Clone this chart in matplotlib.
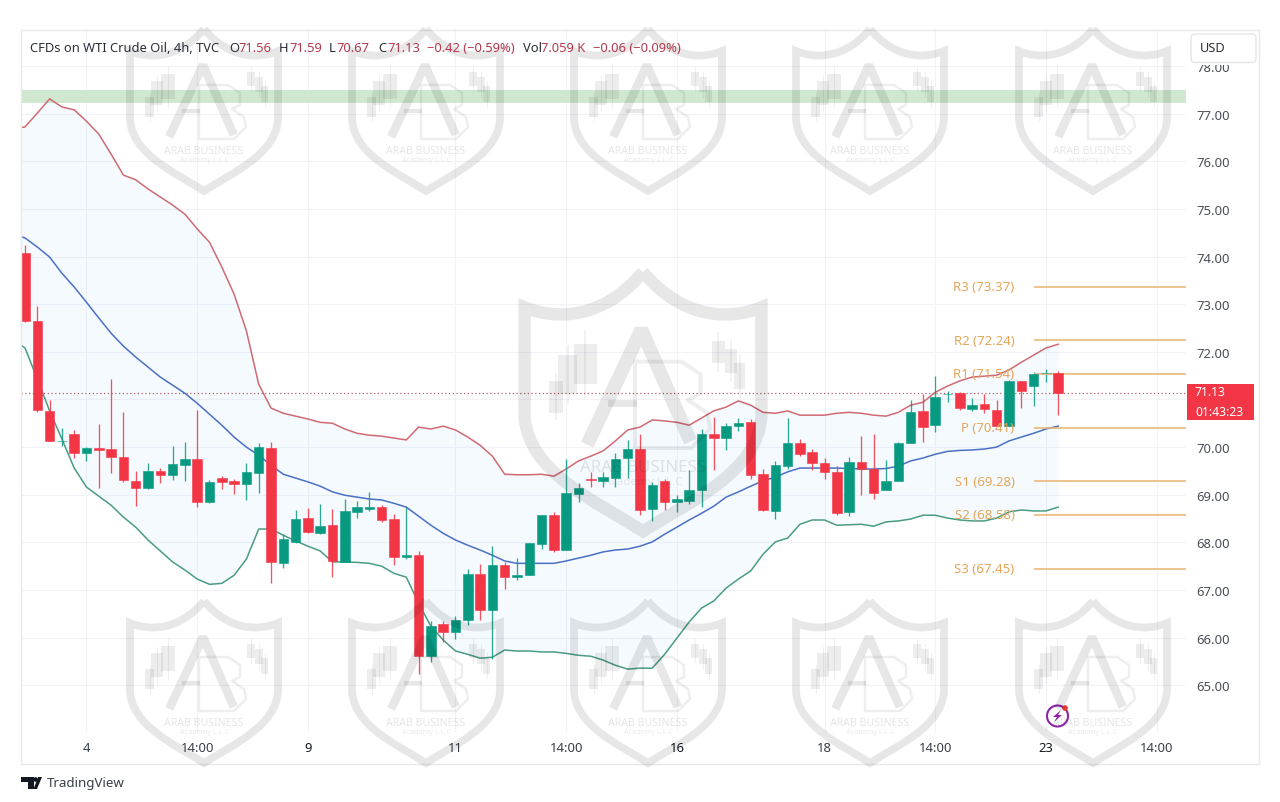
import numpy as np
import matplotlib.pyplot as plt
from matplotlib.patches import Rectangle, FancyBboxPatch, PathPatch, Circle, Polygon
from matplotlib.path import Path

plt.rcParams['font.family'] = ['Noto Sans', 'DejaVu Sans']

# Candles (4h)
opens = [74.07, 72.65, 70.76, 70.12, 70.27, 69.87, 69.99, 69.96, 69.80, 69.29,
         69.15, 69.50, 69.41, 69.62, 69.76, 68.84, 69.35, 69.29, 69.22, 69.45,
         69.99, 67.56, 68.01, 68.51, 68.19, 68.36, 67.59, 68.63, 68.70, 68.75,
         68.49, 67.69, 67.73, 65.62, 66.28, 66.11, 66.37, 67.34, 66.58, 67.53,
         67.27, 67.31, 67.96, 68.58, 67.84, 69.02, 69.32, 69.29, 69.36, 69.77,
         69.97, 68.71, 69.29, 68.85, 68.87, 69.10, 70.27, 70.19, 70.45, 70.52,
         69.43, 68.65, 69.61, 70.08, 69.90, 69.66, 69.48, 68.63, 69.69, 69.54,
         69.10, 69.29, 70.08, 70.75, 70.46, 71.11, 71.14, 70.81, 70.90, 70.78,
         70.45, 71.39, 71.29, 71.55, 71.56]
highs = [74.24, 72.97, 70.99, 70.40, 70.36, 70.00, 70.48, 71.43, 70.73, 69.50,
         69.66, 69.57, 70.03, 70.11, 70.78, 69.31, 69.39, 69.34, 69.66, 70.08,
         70.10, 68.17, 68.68, 68.73, 68.80, 68.71, 68.92, 68.86, 69.05, 68.79,
         68.59, 68.75, 67.82, 66.35, 66.35, 66.46, 67.44, 67.54, 67.93, 67.59,
         67.68, 67.98, 68.58, 68.63, 69.75, 69.24, 69.47, 69.48, 69.87, 70.14,
         70.27, 69.26, 69.33, 68.99, 69.52, 70.39, 70.64, 70.50, 70.62, 70.59,
         69.54, 69.71, 70.61, 70.18, 69.97, 69.78, 69.61, 69.80, 70.24, 70.27,
         69.73, 70.10, 70.98, 71.11, 71.50, 71.18, 71.15, 71.04, 71.11, 70.99,
         71.40, 71.39, 71.58, 71.64, 71.59]
lows = [72.63, 70.73, 70.12, 70.03, 69.78, 69.70, 69.15, 69.45, 69.27, 68.77,
        69.12, 69.24, 69.31, 69.28, 68.75, 68.82, 69.13, 69.01, 68.89, 69.03,
        67.14, 67.46, 67.98, 68.19, 68.17, 67.28, 67.59, 68.51, 68.66, 68.42,
        67.52, 67.66, 65.23, 65.49, 65.90, 65.98, 66.27, 66.37, 65.56, 67.02,
        67.21, 67.31, 67.86, 67.80, 67.83, 68.84, 69.17, 69.17, 69.17, 69.36,
        68.57, 68.45, 68.68, 68.63, 68.81, 68.75, 69.51, 69.94, 70.34, 69.33,
        68.66, 68.50, 69.55, 69.82, 69.51, 69.33, 68.57, 68.56, 69.00, 68.91,
        69.10, 69.29, 70.08, 70.11, 70.31, 70.95, 70.78, 70.76, 70.71, 70.45,
        70.45, 70.83, 70.87, 71.37, 70.67]
closes = [72.65, 70.78, 70.12, 70.13, 69.87, 69.99, 69.94, 69.79, 69.31, 69.15,
          69.50, 69.41, 69.64, 69.76, 68.84, 69.27, 69.26, 69.22, 69.48, 70.00,
          67.58, 68.07, 68.49, 68.21, 68.35, 67.61, 68.66, 68.75, 68.75, 68.47,
          67.69, 67.73, 65.62, 66.24, 66.11, 66.38, 67.33, 66.58, 67.53, 67.27,
          67.32, 67.98, 68.58, 67.84, 69.03, 69.15, 69.31, 69.37, 69.76, 69.97,
          68.68, 69.20, 68.85, 68.91, 69.10, 70.27, 70.19, 70.44, 70.50, 69.41,
          68.67, 69.62, 70.08, 69.85, 69.66, 69.48, 68.62, 69.69, 69.53, 69.03,
          69.29, 70.08, 70.74, 70.43, 71.06, 71.12, 70.83, 70.89, 70.79, 70.45,
          71.39, 71.17, 71.53, 71.56, 71.13]

# Bollinger bands, first value sits one bar left of the visible range
band_upper = [76.68, 76.72, 77.01, 77.31, 77.14, 77.08, 76.84, 76.57, 76.15, 75.71, 75.61,
              75.42, 75.25, 75.08, 74.89, 74.58, 74.30, 73.78, 73.21, 72.44, 71.32,
              70.82, 70.71, 70.65, 70.59, 70.52, 70.50, 70.38, 70.29, 70.25, 70.23,
              70.19, 70.15, 70.42, 70.38, 70.44, 70.36, 70.21, 70.04, 69.81, 69.43,
              69.42, 69.42, 69.43, 69.39, 69.54, 69.71, 69.81, 69.92, 70.13, 70.36,
              70.42, 70.57, 70.55, 70.52, 70.46, 70.61, 70.76, 70.84, 70.97, 70.88,
              70.73, 70.71, 70.76, 70.67, 70.67, 70.67, 70.71, 70.73, 70.71, 70.67,
              70.65, 70.73, 70.88, 70.94, 71.15, 71.28, 71.39, 71.47, 71.49, 71.51,
              71.62, 71.78, 71.93, 72.08, 72.16]
band_mid = [74.47, 74.39, 74.20, 73.99, 73.65, 73.36, 73.04, 72.71, 72.39, 72.12, 71.89,
            71.68, 71.47, 71.30, 71.13, 70.92, 70.69, 70.46, 70.21, 70.00, 69.83,
            69.62, 69.43, 69.35, 69.27, 69.18, 69.06, 68.99, 68.95, 68.91, 68.89,
            68.82, 68.74, 68.55, 68.36, 68.19, 68.05, 67.94, 67.84, 67.73, 67.61,
            67.56, 67.56, 67.56, 67.56, 67.61, 67.67, 67.73, 67.80, 67.84, 67.86,
            67.92, 68.01, 68.17, 68.32, 68.47, 68.61, 68.76, 68.95, 69.06, 69.18,
            69.29, 69.37, 69.48, 69.56, 69.56, 69.56, 69.56, 69.55, 69.54, 69.54,
            69.55, 69.60, 69.71, 69.77, 69.85, 69.91, 69.93, 69.94, 69.96, 70.00,
            70.13, 70.21, 70.29, 70.38, 70.44]
band_lower = [72.27, 72.08, 71.43, 70.76, 70.17, 69.56, 69.16, 68.97, 68.78, 68.53, 68.32,
              68.05, 67.82, 67.59, 67.42, 67.23, 67.12, 67.14, 67.31, 67.65, 68.28,
              68.28, 68.15, 68.03, 67.92, 67.82, 67.59, 67.59, 67.58, 67.56, 67.50,
              67.35, 67.27, 66.72, 66.24, 65.95, 65.72, 65.65, 65.57, 65.59, 65.74,
              65.72, 65.72, 65.70, 65.70, 65.67, 65.63, 65.61, 65.53, 65.42, 65.34,
              65.36, 65.36, 65.65, 65.99, 66.33, 66.62, 66.77, 67.04, 67.23, 67.40,
              67.75, 68.01, 68.09, 68.38, 68.47, 68.47, 68.36, 68.37, 68.38, 68.34,
              68.43, 68.45, 68.49, 68.57, 68.57, 68.51, 68.47, 68.45, 68.45, 68.51,
              68.64, 68.68, 68.66, 68.66, 68.74]

# Pivot levels
pivot_names = ['R3', 'R2', 'R1', 'P', 'S1', 'S2', 'S3']
pivot_levels = [73.37, 72.24, 71.54, 70.41, 69.28, 68.58, 67.45]

zone_low, zone_high = 77.22, 77.50
last_price = 71.13
countdown = '01:43:23'

price_ticks = list(range(65, 79))
hidden_tick = 71  # sits behind the price tag
time_positions = [5, 14, 23, 35, 44, 53, 65, 74, 83, 92]
time_labels = ['4', '14:00', '9', '11', '14:00', '16', '18', '14:00', '23', '14:00']
time_bold = ['9', '16', '23']

RED = '#F23645'
GREEN = '#089981'
ORANGE = '#E5A55A'
TEXT = '#2a2e39'

W, H = 1280, 803
fig = plt.figure(figsize=(W / 100, H / 100), dpi=100)

# Chart pane sits at pixels x 21-1186, y 30-733
ax = fig.add_axes([21 / W, 1 - 733 / H, (1186 - 21) / W, (733 - 30) / H])
ax.set_xlim(-0.325, 94.39)
ax.set_ylim(64.02, 78.776)
for s in ax.spines.values():
    s.set_visible(False)
ax.grid(True, color='#f1f3f8', lw=0.8)
ax.set_axisbelow(True)

ax.yaxis.tick_right()
ax.set_yticks(price_ticks)
ax.set_yticklabels(['' if p == hidden_tick else f'{p:.2f}' for p in price_ticks],
                   fontsize=9.4, color='#4a4e59')
ax.set_xticks(time_positions)
ax.set_xticklabels(time_labels, fontsize=9.4, color='#3a3e49')
for lab in ax.get_xticklabels():
    if lab.get_text() in time_bold:
        lab.set_fontweight('bold')
        lab.set_color('#131722')
ax.tick_params(axis='y', length=0, pad=7.2)
ax.tick_params(axis='x', length=0, pad=6.5)

band_x = np.arange(-1, 85)
ax.axhspan(zone_low, zone_high, color='#cfe8cf', lw=0, zorder=1)
ax.fill_between(band_x, band_upper, band_lower, color='#2196F3', alpha=0.045, lw=0, zorder=1)
ax.plot(band_x, band_upper, color='#cf6a72', lw=1.1, zorder=2)
ax.plot(band_x, band_mid, color='#4a70c4', lw=1.1, zorder=2)
ax.plot(band_x, band_lower, color='#4b9c84', lw=1.1, zorder=2)

ax.axhline(last_price, color='#b5606a', lw=0.9, ls=(0, (1, 2)), zorder=2)

# candles
idx = np.arange(len(opens))
opens = np.array(opens)
closes = np.array(closes)
colors = [GREEN if c >= o else RED for o, c in zip(opens, closes)]
ax.vlines(idx, lows, highs, colors=colors, lw=0.95, alpha=0.85, zorder=3)
ax.bar(idx, np.abs(closes - opens), bottom=np.minimum(opens, closes), width=0.78,
       color=colors, edgecolor=colors, lw=0.4, zorder=4)

# pivots
for name, level in zip(pivot_names, pivot_levels):
    ax.hlines(level, 82.0, 94.39, color='#E8B26F', lw=1.1, zorder=3)
    ax.text(80.45, level, f'{name} ({level:.2f})', ha='right', va='center',
            fontsize=9.5, color=ORANGE, zorder=6)

# price tag on the axis
trans = ax.get_yaxis_transform()
ax.add_patch(Rectangle((1.0005, 70.56), 67 / 1165, 0.76, transform=trans, color=RED,
                       lw=0, clip_on=False, zorder=7))
ax.text(1 + 9 / 1165, 71.16, f'{last_price:.2f}', transform=trans, color='white',
        fontsize=8.8, fontweight='bold', va='center', clip_on=False, zorder=8)
ax.text(1 + 9 / 1165, 70.74, countdown, transform=trans, color='white',
        fontsize=8.8, fontweight='bold', va='center', clip_on=False, zorder=8)

# overlay in pixel coordinates for frame, header, watermark and logos
ov = fig.add_axes([0, 0, 1, 1], facecolor='none', zorder=10)
ov.set_xlim(0, W)
ov.set_ylim(H, 0)
ov.axis('off')

ov.add_patch(Rectangle((20.5, 30.5), 1238, 734, fill=False, ec='#e8e9ec', lw=1))


def watermark(cx, top, k):
    grey = (0, 0, 0, 0.095)
    # shield outline
    verts = [(0, 0), (-25, 30), (-55, 30), (-74, 22),
             (-74, 90), (-72, 125), (-30, 143), (0, 162),
             (30, 143), (72, 125), (74, 90), (74, 22),
             (55, 30), (25, 30), (0, 0)]
    codes = [Path.MOVETO, Path.CURVE4, Path.CURVE4, Path.CURVE4,
             Path.LINETO, Path.CURVE4, Path.CURVE4, Path.CURVE4,
             Path.CURVE4, Path.CURVE4, Path.CURVE4, Path.LINETO,
             Path.CURVE4, Path.CURVE4, Path.CURVE4]
    pts = [(cx + x * k, top + y * k) for x, y in verts]
    ov.add_patch(PathPatch(Path(pts, codes), fill=False, ec=grey, lw=5.6 * k, joinstyle='miter'))
    # letter A
    ov.plot([cx - 33 * k, cx - 1 * k, cx + 28 * k], [top + 104 * k, top + 36 * k, top + 102 * k],
            color=grey, lw=6.2 * k, solid_joinstyle='bevel')
    ov.plot([cx - 20 * k, cx - 6 * k], [top + 82 * k, top + 82 * k], color=grey, lw=3 * k)
    # letter B, thin outline
    ov.plot(np.array([-5, 24, 36, 36, 28, 40, 42, 30, -5, -5]) * k + cx,
            np.array([56, 56, 64, 76, 80, 88, 98, 110, 110, 56]) * k + top,
            color=(0, 0, 0, 0.065), lw=1.8 * k)
    # little candles
    bars = [(-59, 68, 9, 20, 4), (-53, 52, 12, 24, 6), (-43, 45, 14, 25, 8),
            (43, 43, 8, 14, 5), (51, 48, 8, 15, 5), (57, 57, 7, 16, 5)]
    for bx, by, bw, bh, wick in bars:
        ov.add_patch(Rectangle((cx + bx * k, top + by * k), bw * k, bh * k, color=(0, 0, 0, 0.07), lw=0))
        ov.plot([cx + (bx + bw / 2) * k] * 2, [top + (by - wick) * k, top + (by + bh + wick) * k],
                color=(0, 0, 0, 0.06), lw=0.8 * k)
    ov.text(cx, top + 122 * k, 'ARAB BUSINESS', ha='center', va='center', fontsize=7.6 * k,
            fontweight='bold', color=(0, 0, 0, 0.10))
    ov.text(cx, top + 131 * k, 'Academy L.L.C', ha='center', va='center', fontsize=5.2 * k,
            color=(0, 0, 0, 0.08))


for cx in [204, 426, 648, 870, 1093]:
    watermark(cx, 30, 1.0)
    watermark(cx, 602, 1.0)
watermark(643, 273, 1.6)

# header line, pieces placed by hand like the legend row
header = [(30, 'CFDs on WTI Crude Oil, 4h, TVC', TEXT), (229, 'O', TEXT), (238, '71.56', '#b5394c'),
          (279, 'H', TEXT), (289, '71.59', '#b5394c'), (329, 'L', TEXT), (336, '70.67', '#b5394c'),
          (378, 'C', TEXT), (387, '71.13', '#b5394c'), (427, '\u22120.42 (\u22120.59%)', '#b5394c'),
          (523, 'Vol', TEXT), (541, '7.059 K', '#b5394c'), (593, '\u22120.06 (\u22120.09%)', '#b5394c')]
for x, s, c in header:
    ov.text(x, 48, s, color=c, fontsize=9.3, va='center', ha='left')

# USD button, its white backing cuts off the top of the 78.00 label
ov.add_patch(Rectangle((1190, 60), 68, 5.5, color='white', lw=0))
ov.add_patch(FancyBboxPatch((1191, 35), 65, 28.5, boxstyle='round,pad=0,rounding_size=4',
                            fc='white', ec='#e3e5ea', lw=1))
ov.text(1200, 49, 'USD', fontsize=9.2, color=TEXT, va='center', ha='left')

# TradingView logo
ov.add_patch(Polygon([(21, 778), (34, 778), (34, 790), (28, 790), (28, 783), (21, 783)], color='#131722', lw=0))
ov.add_patch(Circle((35.5, 780.5), 2.3, color='#131722', lw=0))
ov.add_patch(Polygon([(37, 790), (33.5, 790), (38, 778), (42, 778)], color='#131722', lw=0))
ov.text(47, 784, 'TradingView', fontsize=9.6, color='#3a3e49', va='center', ha='left')

# lightning badge
ov.add_patch(Circle((1057.5, 717), 10.5, fill=False, ec='#8e24aa', lw=1.5))
ov.add_patch(Polygon([(1061, 711), (1053, 718), (1057, 718), (1054, 723), (1062, 716), (1058, 716)],
                     color='#8e24aa', lw=0))
ov.add_patch(Circle((1065, 709), 2.8, color='#e53935', lw=0))

fig.savefig('out.png', dpi=100)
